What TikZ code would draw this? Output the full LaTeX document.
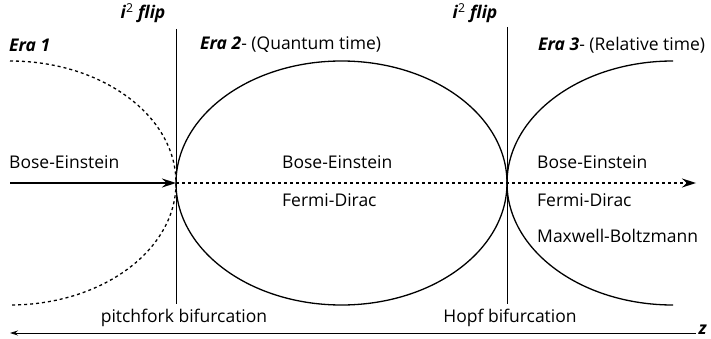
\documentclass[tikz,border=0pt]{standalone}
\usepackage{fontspec}
\setmainfont{Open Sans}
\usetikzlibrary{arrows.meta}
\begin{document}
\begin{tikzpicture}[x=1pt,y=-1pt,
  txt/.style={inner sep=0pt,font=\fontsize{17.5}{21}\selectfont},
  curve/.style={line width=1.3pt},
  dotcurve/.style={line width=1.3pt,dash pattern=on 3pt off 3pt},
  vline/.style={line width=0.8pt},
  bigtip/.style={-{Stealth[length=14pt,width=9pt]}},
]
\useasboundingbox (0,0) rectangle (711,339);
% flip points
\coordinate (f1) at (176,183);
\coordinate (f2) at (507,183);
\coordinate (s) at (10,183);
\coordinate (e) at (696,183);
% vertical lines
\coordinate (v1t) at (176,29);
\coordinate (v1b) at (176,304);
\coordinate (v2t) at (507,27);
\coordinate (v2b) at (507,304);
\draw[vline] (v1t) -- (v1b);
\draw[vline] (v2t) -- (v2b);
% curves
\draw[dotcurve] (10,61) arc[start angle=-90,end angle=90,x radius=166,y radius=122];
\draw[curve] (341.5,183) ellipse[x radius=165.5,y radius=122];
\draw[curve] (673,61) arc[start angle=-90,end angle=-270,x radius=166,y radius=122];
% horizontal arrows
\draw[line width=1.3pt,bigtip] (s) -- (f1);
\draw[line width=1.3pt,dash pattern=on 3pt off 3pt,bigtip] (f1) -- (e);
% bottom axis
\coordinate (ax1) at (696,333);
\coordinate (ax0) at (10,333);
\draw[line width=0.8pt,-{Stealth[length=8pt,width=5pt]}] (ax1) -- (ax0);
\node[txt,anchor=east] (z) at (707,330) {\textbf{\textit{z}}};
% labels
\node[txt] (fl1) at (143,13) {\textbf{\textit{i}}\textsuperscript{2} \textbf{\textit{flip}}};
\node[txt] (fl2) at (475,13) {\textbf{\textit{i}}\textsuperscript{2} \textbf{\textit{flip}}};
\node[txt,anchor=west] (e1) at (9,45) {\textbf{\textit{Era 1}}};
\node[txt,anchor=west] (e2) at (200,45) {\textbf{\textit{Era 2}}- (Quantum time)};
\node[txt,anchor=west] (e3) at (538,45) {\textbf{\textit{Era 3}}- (Relative time)};
\node[txt,anchor=west] (b1) at (9,162) {Bose-Einstein};
\node[txt,anchor=west] (b2) at (282,162) {Bose-Einstein};
\node[txt,anchor=west] (fd2) at (282,200) {Fermi-Dirac};
\node[txt,anchor=west] (b3) at (537,162) {Bose-Einstein};
\node[txt,anchor=west] (fd3) at (537,200) {Fermi-Dirac};
\node[txt,anchor=west] (mb3) at (537,236) {Maxwell-Boltzmann};
\node[txt] (pb) at (184,318) {pitchfork bifurcation};
\node[txt] (hb) at (510,318) {Hopf bifurcation};
\end{tikzpicture}
\end{document}
